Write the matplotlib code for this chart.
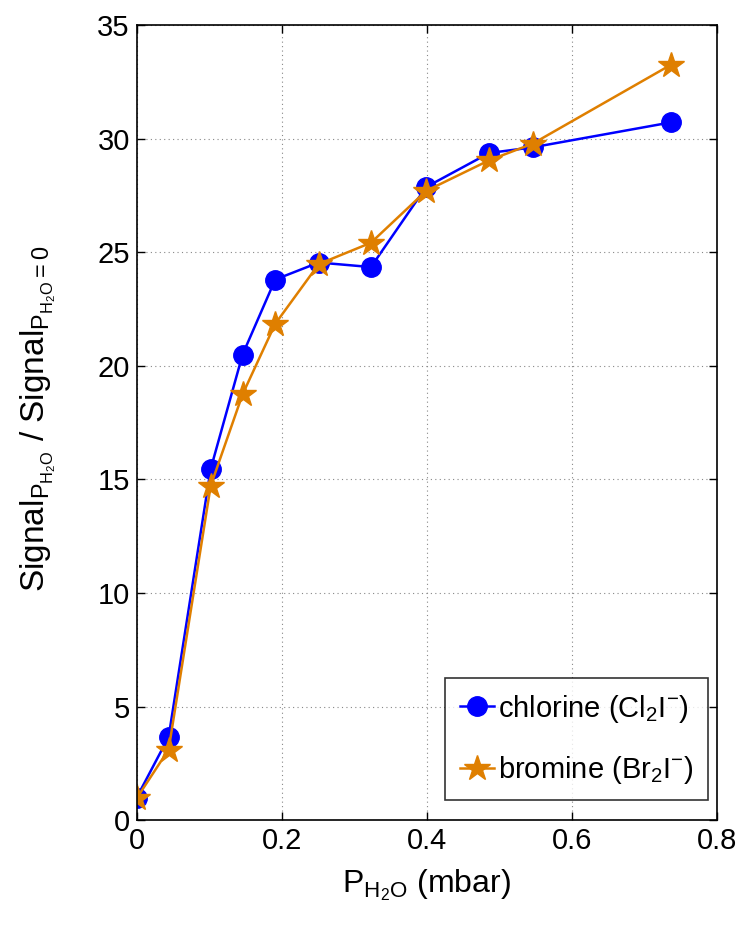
import matplotlib
matplotlib.use("Agg")
import matplotlib.pyplot as plt

# water partial pressure (mbar) and normalised signal
p_h2o = [0.0, 0.044, 0.102, 0.146, 0.191, 0.251, 0.323, 0.399, 0.486, 0.546, 0.737]
chlorine = [1.0, 3.67, 15.46, 20.5, 23.8, 24.55, 24.35, 27.87, 29.37, 29.62, 30.72]
bromine = [0.97, 3.11, 14.72, 18.75, 21.85, 24.48, 25.42, 27.70, 29.05, 29.78, 33.26]

x_ticks = [0, 0.2, 0.4, 0.6, 0.8]
y_ticks = [0, 5, 10, 15, 20, 25, 30, 35]

plt.rcParams['font.family'] = ['Liberation Sans', 'DejaVu Sans']
plt.rcParams['mathtext.fontset'] = 'custom'
plt.rcParams['mathtext.rm'] = 'Liberation Sans'
plt.rcParams['mathtext.it'] = 'Liberation Sans'

fig = plt.figure(figsize=(7.39, 9.30), dpi=100)
ax = fig.add_axes([0.185, 0.118, 0.785, 0.855])

ax.plot(p_h2o, chlorine, color='#0000FF', linewidth=1.8, marker='o',
        markersize=14, markeredgecolor='#0000FF', label=r'chlorine (Cl$_2$I$^{-}$)')
ax.plot(p_h2o, bromine, color='#DF7F00', linewidth=1.8, marker='*',
        markersize=19, markeredgecolor='#DF7F00', label=r'bromine (Br$_2$I$^{-}$)')

ax.set_xlim(0, 0.8)
ax.set_ylim(0, 35)
ax.set_xticks(x_ticks)
ax.set_xticklabels([f'{t:g}' for t in x_ticks])
ax.set_yticks(y_ticks)
ax.tick_params(direction='in', top=True, right=True, length=6, width=1,
               labelsize=21, pad=5)
ax.grid(True, linestyle=(0, (1, 3)), color='#888888', linewidth=0.8)
for s in ax.spines.values():
    s.set_linewidth(1.2)

ax.set_xlabel(r'P$_{\mathrm{H_2O}}$ (mbar)', fontsize=23, labelpad=9)
ax.set_ylabel(r'Signal$_{\mathrm{P}_{\mathrm{H_2O}}}$ / Signal$_{\mathrm{P}_{\mathrm{H_2O}}\mathrm{=0}}$',
              fontsize=24)
ax.yaxis.set_label_coords(-0.136, 0.505)

leg = ax.legend(loc='lower right', bbox_to_anchor=(0.985, 0.025), fontsize=21,
                frameon=True, fancybox=False, edgecolor='black',
                handlelength=1.15, handletextpad=0.15, borderaxespad=0,
                labelspacing=1.0, borderpad=0.5)
leg.get_frame().set_linewidth(1.2)

plt.savefig('out.png', dpi=100)
